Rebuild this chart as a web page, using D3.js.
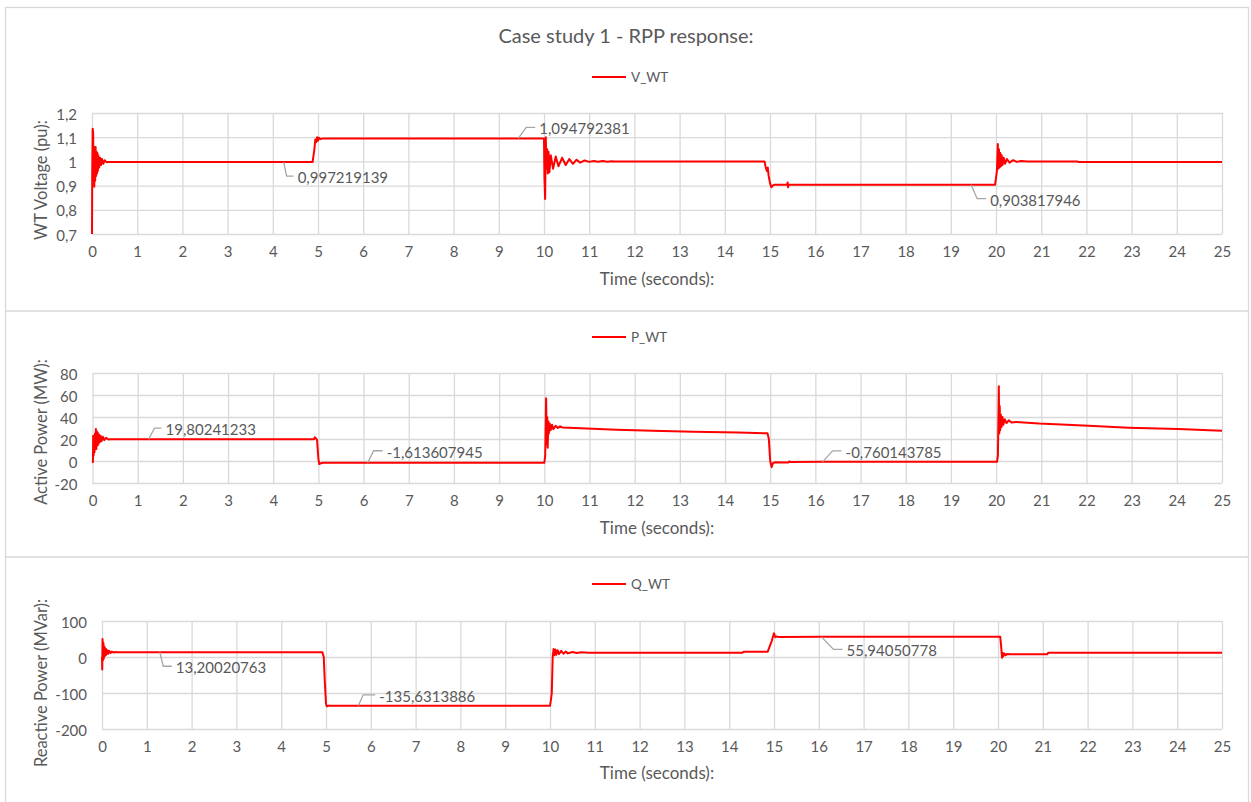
<!DOCTYPE html>
<html>
<head>
<meta charset="utf-8">
<script src="https://cdn.jsdelivr.net/npm/d3@7"></script>
<style>
  body { margin: 0; background: #fff; }
  svg { display: block; }
  text { font-family: Lato, "Open Sans", sans-serif; fill: #595959; }
</style>
</head>
<body>
<svg id="chart" width="1251" height="802"></svg>
<script>
// ---- data -------------------------------------------------------------
const timeTicks = [0,1,2,3,4,5,6,7,8,9,10,11,12,13,14,15,16,17,18,19,20,21,22,23,24,25];
const vTicks = [0.7, 0.8, 0.9, 1.0, 1.1, 1.2];
const pTicks = [-20, 0, 20, 40, 60, 80];
const qTicks = [-200, -100, 0, 100];

// WT terminal voltage (pu) vs time (s)
const vWT = [
  [0,0.70],[0.005,0.95],[0.015,1.135],[0.025,1.12],[0.035,0.93],[0.045,1.06],[0.05,0.895],
  [0.06,1.05],[0.07,0.92],[0.08,1.06],[0.09,0.94],[0.10,1.04],[0.11,0.95],[0.12,1.035],
  [0.13,0.96],[0.14,1.025],[0.16,0.975],[0.18,1.015],[0.20,0.985],[0.22,1.01],[0.25,0.99],
  [0.28,1.005],[0.32,0.997],[0.36,0.9972],[1,0.9972],[4.24,0.997219139],[4.88,0.9972],
  [4.92,1.05],[4.94,1.09],[4.96,1.08],[4.98,1.10],[5.0,1.085],[5.02,1.098],[5.05,1.092],
  [5.1,1.0948],[9.43,1.094792381],[10.0,1.0948],[10.01,0.93],[10.025,0.845],[10.04,1.10],
  [10.055,0.97],[10.07,1.05],[10.085,0.95],[10.10,1.04],[10.12,0.955],[10.15,1.025],
  [10.2,0.97],[10.26,1.02],[10.32,0.98],[10.4,1.015],[10.48,0.985],[10.56,1.01],[10.64,0.99],
  [10.72,1.007],[10.8,0.995],[10.9,1.004],[11.0,0.998],[11.1,1.002],[11.2,0.999],[11.3,1.002],
  [11.4,0.999],[11.5,1.001],[11.55,1.0],[14.88,1.0],[14.9,0.98],[14.93,0.96],[14.95,0.975],
  [14.97,0.94],[15.0,0.91],[15.03,0.893],[15.06,0.9],[15.1,0.9038],[15.38,0.9038],[15.39,0.913],
  [15.4,0.893],[15.41,0.904],[15.5,0.9038],[19.45,0.903817946],[19.98,0.9038],[20.02,0.96],
  [20.04,1.072],[20.05,0.97],[20.065,1.05],[20.08,0.975],[20.095,1.035],[20.11,0.98],
  [20.125,1.025],[20.145,0.985],[20.17,1.015],[20.2,0.99],[20.24,1.01],[20.3,0.995],
  [20.38,1.005],[20.46,0.998],[20.55,1.002],[20.7,1.0],[21.8,1.0],[21.82,0.998],[25,0.998]
];

// WT active power (MW) vs time (s)
const pWT = [
  [0,0],[0.01,-1],[0.015,23],[0.025,5],[0.035,22],[0.045,8],[0.055,25],[0.065,12],[0.075,29],
  [0.085,11],[0.095,27],[0.105,14],[0.115,26],[0.13,15],[0.145,24],[0.16,17],[0.18,23],
  [0.2,18],[0.23,22],[0.26,19],[0.3,21],[0.35,19.6],[0.4,19.8],[1.24,19.80241233],
  [4.9,19.8],[4.92,21.5],[4.95,20.5],[4.97,19],[5.0,2],[5.02,-2.8],[5.06,-2.0],[5.1,-1.61],
  [6.09,-1.613607945],[10.0,-1.61],[10.02,5],[10.04,57],[10.055,15],[10.065,40],[10.075,12],
  [10.09,36],[10.1,25],[10.12,34],[10.14,28],[10.17,33],[10.2,29],[10.25,32],[10.3,30],
  [10.35,31.5],[10.4,30.5],[10.8,29.8],[11.6,28.4],[12.4,27.4],[13.3,26.5],[14.3,25.8],
  [14.94,25.2],[14.97,20],[15.0,0],[15.03,-5.5],[15.06,-2],[15.1,-1.2],[15.4,-1.3],
  [15.42,-0.5],[15.45,-0.9],[16.16,-0.760143785],[20.02,-0.76],[20.04,5],[20.06,68],
  [20.07,25],[20.08,50],[20.09,28],[20.105,42],[20.12,31],[20.14,40],[20.16,33],[20.19,38],
  [20.23,34.5],[20.28,37],[20.34,35],[20.44,35.5],[20.95,34],[22.05,32],[22.93,30.3],
  [24.03,29.1],[25,27.6]
];

// WT reactive power (MVar) vs time (s)
const qWT = [
  [0,0],[0.005,-35],[0.012,50],[0.02,-10],[0.03,40],[0.04,-5],[0.05,30],[0.06,2],[0.07,25],
  [0.08,5],[0.09,22],[0.1,7],[0.12,19],[0.14,9],[0.16,17],[0.19,11],[0.22,15],[0.26,12.5],
  [0.3,14],[0.35,13.2],[1.29,13.20020763],[4.92,13.2],[4.95,0],[4.97,-60],[5.0,-130],
  [5.02,-137],[5.05,-135.6],[5.72,-135.6313886],[10.0,-135.6],[10.02,-120],[10.04,-100],
  [10.06,0],[10.08,22],[10.1,5],[10.12,21],[10.14,6],[10.17,19],[10.2,8],[10.25,17],
  [10.3,9],[10.35,15],[10.4,10],[10.5,14],[10.6,11],[10.7,13],[10.85,12],[14.3,12],
  [14.32,14.8],[14.86,14.8],[14.95,45],[15.0,66],[15.03,55],[15.06,57],[15.1,55.9],
  [16.06,55.94050778],[20.05,56],[20.07,30],[20.09,-2],[20.1,12],[20.12,2],[20.14,10],
  [20.17,5],[20.2,8.5],[20.3,7.5],[21.1,7.5],[21.12,12],[25,12]
];

// labelled data points
const vCallouts = [
  { t: 4.24, v: 0.997219139 },
  { t: 9.43, v: 1.094792381 },
  { t: 19.45, v: 0.903817946 }
];
const pCallouts = [
  { t: 1.24, v: 19.80241233 },
  { t: 6.09, v: -1.613607945 },
  { t: 16.16, v: -0.760143785 }
];
const qCallouts = [
  { t: 1.29, v: 13.20020763 },
  { t: 5.72, v: -135.6313886 },
  { t: 16.06, v: 55.94050778 }
];

// ---- layout -----------------------------------------------------------
const panels = [
  { name: "V_WT", yTitle: "WT Voltage (pu):", data: vWT, ticks: vTicks, callouts: vCallouts,
    domain: [0.7, 1.2], plot: { left: 92, right: 1222, top: 113, bottom: 234 },
    legendY: 77, yTitleY: 180, xTitleY: 278,
    leaders: [ { ex: 3, ey: 14, hx: 7 }, { ex: 8, ey: -11, hx: 9 }, { ex: 6, ey: 14, hx: 9 } ] },
  { name: "P_WT", yTitle: "Active Power (MW):", data: pWT, ticks: pTicks, callouts: pCallouts,
    domain: [-20, 80], plot: { left: 92.5, right: 1222, top: 373, bottom: 483 },
    legendY: 337, yTitleY: 432, xTitleY: 527,
    leaders: [ { ex: 6, ey: -11, hx: 7 }, { ex: 6, ey: -12, hx: 9 }, { ex: 10, ey: -11, hx: 9 } ] },
  { name: "Q_WT", yTitle: "Reactive Power (MVar):", data: qWT, ticks: qTicks, callouts: qCallouts,
    domain: [-200, 100], plot: { left: 102, right: 1222, top: 621, bottom: 729 },
    legendY: 584, yTitleY: 683, xTitleY: 772,
    leaders: [ { ex: 3.5, ey: 14, hx: 8.5 }, { ex: 5, ey: -11, hx: 12 }, { ex: 12, ey: 12.5, hx: 9 } ] }
];
const separators = [311, 557];

const GRID = "#d9d9d9", RED = "#ff0000", LEADER = "#a6a6a6";
const locale = d3.formatLocale({ decimal: ",", thousands: ".", grouping: [3], currency: ["", ""], minus: "-" });
const tickFmt = locale.format("~g");
const valueLabel = v => String(v).replace(".", ",");

const svg = d3.select("#chart");

// outer frame and panel dividers
svg.append("rect").attr("x", 5.5).attr("y", 7.5).attr("width", 1243).attr("height", 810)
  .attr("fill", "none").attr("stroke", GRID).attr("stroke-width", 1.3);
separators.forEach(y => svg.append("line").attr("x1", 5.5).attr("x2", 1248.5)
  .attr("y1", y).attr("y2", y).attr("stroke", GRID).attr("stroke-width", 1.3));

svg.append("text").attr("x", 626).attr("y", 35).attr("text-anchor", "middle")
  .attr("dominant-baseline", "central").style("font-size", "20px")
  .text("Case study 1 - RPP response:");

panels.forEach(p => {
  const x = d3.scaleLinear().domain([0, 25]).range([p.plot.left, p.plot.right]);
  const y = d3.scaleLinear().domain(p.domain).range([p.plot.bottom, p.plot.top]);
  const g = svg.append("g");

  // vertical grid + time axis labels
  const xAxis = d3.axisBottom(x).tickValues(timeTicks).tickSize(-(p.plot.bottom - p.plot.top))
    .tickPadding(10).tickFormat(tickFmt);
  const gx = g.append("g").attr("transform", `translate(0,${p.plot.bottom})`).call(xAxis);
  gx.select(".domain").remove();
  gx.selectAll("line").attr("stroke", GRID).attr("stroke-width", 1.3);
  gx.selectAll("text").attr("fill", "#595959").style("font-size", "15px")
    .attr("y", 17).attr("dy", null).attr("dominant-baseline", "central");

  // horizontal grid + value axis labels
  const yAxis = d3.axisLeft(y).tickValues(p.ticks).tickSize(-(p.plot.right - p.plot.left))
    .tickPadding(15).tickFormat(tickFmt);
  const gy = g.append("g").attr("transform", `translate(${p.plot.left},0)`).call(yAxis);
  gy.select(".domain").remove();
  gy.selectAll("line").attr("stroke", GRID).attr("stroke-width", 1.3);
  gy.selectAll("text").attr("fill", "#595959").style("font-size", "15px")
    .attr("dy", null).attr("dominant-baseline", "central");

  // axis titles
  g.append("text").attr("x", 657).attr("y", p.xTitleY).attr("text-anchor", "middle")
    .attr("dominant-baseline", "central").style("font-size", "17px").text("Time (seconds):");
  g.append("text").attr("transform", `translate(41,${p.yTitleY}) rotate(-90)`)
    .attr("text-anchor", "middle").attr("dominant-baseline", "central")
    .style("font-size", "16.5px").text(p.yTitle);

  // legend
  g.append("line").attr("x1", 592).attr("x2", 626).attr("y1", p.legendY).attr("y2", p.legendY)
    .attr("stroke", RED).attr("stroke-width", 2);
  g.append("text").attr("x", 631).attr("y", p.legendY).attr("dominant-baseline", "central")
    .style("font-size", "13.5px").text(p.name);

  // series
  const line = d3.line().x(d => x(d[0])).y(d => y(d[1]));
  g.append("path").datum(p.data).attr("d", line).attr("fill", "none")
    .attr("stroke", RED).attr("stroke-width", 2).attr("stroke-linejoin", "round");

  // data labels with leader lines
  p.callouts.forEach((c, i) => {
    const L = p.leaders[i];
    const ax = x(c.t), ay = y(c.v);
    const bx = ax + L.ex, by = ay + L.ey, cx = bx + L.hx;
    g.append("polyline").attr("points", `${ax},${ay} ${bx},${by} ${cx},${by}`)
      .attr("fill", "none").attr("stroke", LEADER).attr("stroke-width", 1.3);
    g.append("text").attr("x", cx + 4).attr("y", by + 1).attr("dominant-baseline", "central")
      .style("font-size", "15px").text(valueLabel(c.v));
  });
});
</script>
</body>
</html>
